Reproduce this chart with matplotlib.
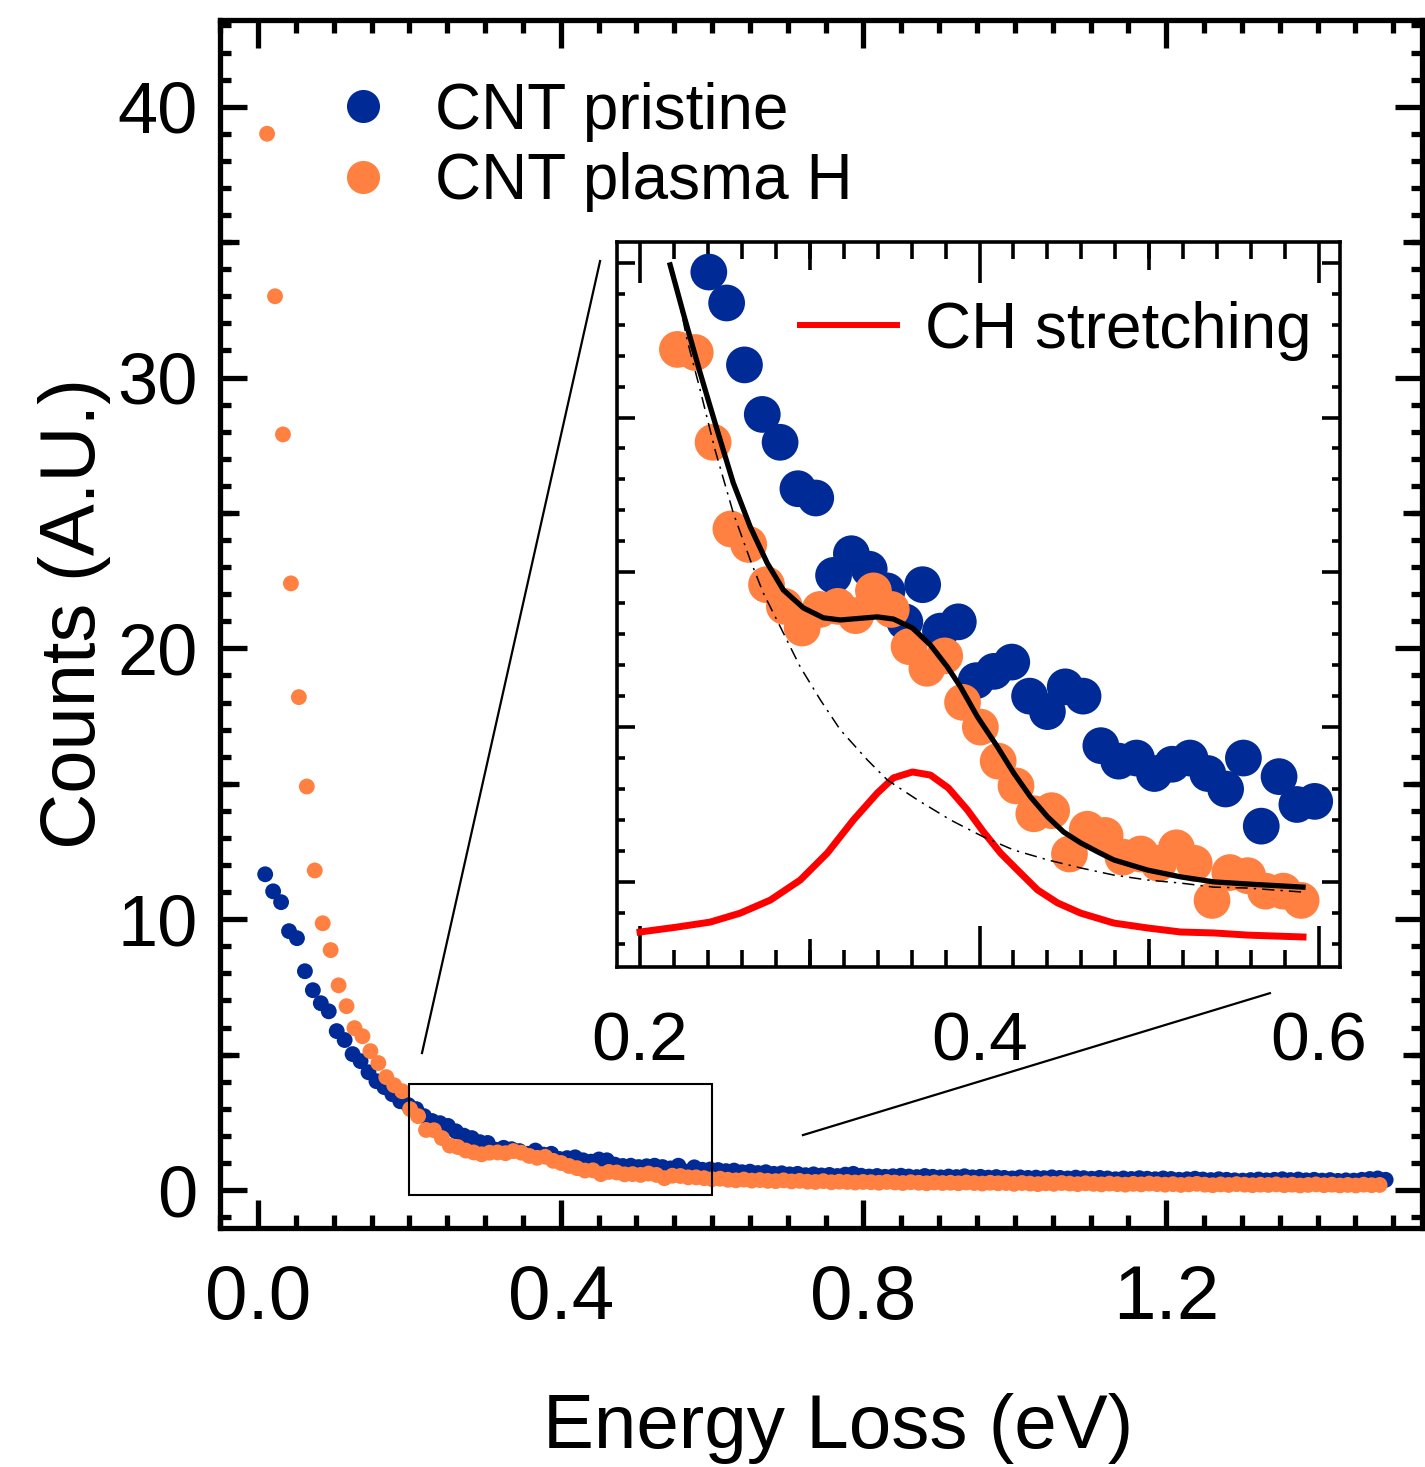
import matplotlib

matplotlib.use("Agg")
import matplotlib.pyplot as plt
import numpy as np
from matplotlib.lines import Line2D
from matplotlib.patches import Rectangle
from matplotlib.ticker import FixedLocator, MultipleLocator

plt.rcParams["font.family"] = ["Liberation Sans", "DejaVu Sans"]

BLUE = "#002A96"
ORANGE = "#FF8040"
RED = "#FF0000"

# energy grid (eV) of the two spectra
STEP = 0.0105
PRISTINE_START = 0.0095
PLASMA_START = 0.012

pristine_counts = [
    11.66, 11.03, 10.63, 9.56, 9.30, 8.08, 7.38, 6.90, 6.60, 5.87,
    5.54, 5.02, 4.76, 4.35, 4.02, 3.80, 3.54, 3.28, 3.14, 2.99,
    2.73, 2.55,
    2.47, 2.37, 2.17, 2.01, 1.92, 1.77, 1.74, 1.49, 1.56, 1.51,
    1.44, 1.34, 1.46, 1.31, 1.34, 1.15, 1.18, 1.21, 1.10, 1.05,
    1.13, 1.10, 0.94, 0.89, 0.90, 0.85, 0.88, 0.90, 0.85, 0.80,
    0.90, 0.68, 0.84, 0.75, 0.76,
    0.74, 0.70, 0.72, 0.66, 0.68, 0.63, 0.66, 0.60, 0.62, 0.58,
    0.60, 0.55, 0.58, 0.54, 0.56, 0.52, 0.57, 0.60, 0.53, 0.50,
    0.52, 0.49, 0.51, 0.53, 0.50, 0.48, 0.52, 0.49, 0.47, 0.50,
    0.48, 0.51, 0.47, 0.49, 0.46, 0.48, 0.45, 0.43, 0.47, 0.45,
    0.46, 0.44, 0.47, 0.45, 0.43, 0.46, 0.44, 0.42, 0.45, 0.43,
    0.40, 0.43, 0.41, 0.44, 0.42, 0.40, 0.43, 0.41, 0.38, 0.40,
    0.42, 0.39, 0.37, 0.40, 0.38, 0.36, 0.35, 0.37, 0.39, 0.36,
    0.38, 0.40, 0.37, 0.39, 0.36, 0.38, 0.35, 0.37, 0.34, 0.36,
    0.35, 0.38, 0.41, 0.43, 0.38,
]
plasma_counts = [
    39.0, 33.0, 27.9, 22.4, 18.2, 14.9, 11.8, 9.85, 8.86, 7.56,
    6.79, 5.98, 5.68, 5.13, 4.69, 4.17, 3.87, 3.65, 2.99, 2.73,
    2.22, 2.21, 1.92, 1.64, 1.59, 1.46, 1.39, 1.32, 1.38, 1.39,
    1.36, 1.44, 1.38, 1.26, 1.19, 1.23, 1.08, 1.00, 0.89, 0.81,
    0.72, 0.73, 0.59, 0.67, 0.65, 0.58, 0.59, 0.56, 0.61, 0.56,
    0.44, 0.53, 0.52, 0.47, 0.47, 0.44,
    0.40, 0.42, 0.38, 0.36, 0.39, 0.35, 0.37, 0.34, 0.33, 0.36,
    0.32, 0.34, 0.31, 0.30, 0.33, 0.29, 0.31, 0.30, 0.28, 0.30,
    0.29, 0.27, 0.30, 0.28, 0.26, 0.29, 0.27, 0.25, 0.28, 0.26,
    0.27, 0.25, 0.28, 0.26, 0.24, 0.27, 0.25, 0.26, 0.23, 0.26,
    0.24, 0.22, 0.25, 0.23, 0.26, 0.24, 0.22, 0.25, 0.23, 0.21,
    0.24, 0.22, 0.20, 0.23, 0.21, 0.24, 0.22, 0.20, 0.22, 0.19,
    0.21, 0.23, 0.20, 0.18, 0.21, 0.19, 0.22, 0.20, 0.18, 0.20,
    0.19, 0.21, 0.18, 0.20, 0.17, 0.19, 0.21, 0.18, 0.20, 0.17,
    0.19, 0.17, 0.20, 0.18, 0.19,
]
# points of each spectrum that belong to the fitted window
PRISTINE_FIT = slice(22, 57)
PLASMA_FIT = slice(20, 56)

fit_total_x = [
    0.2177, 0.2254, 0.2354, 0.2454, 0.2549, 0.2649, 0.2749, 0.2844,
    0.2962, 0.3080, 0.3180, 0.3398, 0.3493, 0.3605, 0.3711, 0.3811,
    0.3888, 0.3988, 0.4106, 0.4201, 0.4301, 0.4401, 0.4496, 0.4596,
    0.4696, 0.4791, 0.4991, 0.5186, 0.5381, 0.5581, 0.5906,
]
fit_total_y = [
    2.493, 2.338, 2.144, 1.960, 1.789, 1.647, 1.530, 1.443,
    1.385, 1.353, 1.346, 1.356, 1.349, 1.320, 1.265, 1.194,
    1.130, 1.033, 0.936, 0.852, 0.774, 0.710, 0.661, 0.626,
    0.597, 0.571, 0.538, 0.516, 0.500, 0.493, 0.483,
]
background_x = [
    0.2189, 0.2277, 0.2354, 0.2442, 0.2549, 0.2649, 0.2726, 0.2826,
    0.2944, 0.3062, 0.3180, 0.3339, 0.3457, 0.3634, 0.3829, 0.4024,
    0.4201, 0.4401, 0.4596, 0.4791, 0.4991, 0.5186, 0.5381, 0.5581,
    0.5906,
]
background_y = [
    2.487, 2.251, 2.089, 1.895, 1.692, 1.540, 1.433, 1.324,
    1.194, 1.088, 0.991, 0.894, 0.829, 0.765, 0.700, 0.645,
    0.603, 0.571, 0.545, 0.522, 0.506, 0.496, 0.483, 0.480,
    0.467,
]
ch_stretch_x = [
    0.2000, 0.2218, 0.2413, 0.2590, 0.2767, 0.2944, 0.3103, 0.3257,
    0.3398, 0.3493, 0.3605, 0.3711, 0.3817, 0.3929, 0.4024, 0.4124,
    0.4224, 0.4342, 0.4460, 0.4596, 0.4791, 0.4991, 0.5186, 0.5381,
    0.5581, 0.5906,
]
ch_stretch_y = [
    0.338, 0.354, 0.370, 0.399, 0.441, 0.506, 0.593, 0.700,
    0.787, 0.836, 0.855, 0.845, 0.803, 0.732, 0.661, 0.593,
    0.538, 0.474, 0.432, 0.399, 0.367, 0.351, 0.338, 0.335,
    0.328, 0.322,
]

pristine_energy = PRISTINE_START + STEP * np.arange(len(pristine_counts))
plasma_energy = PLASMA_START + STEP * np.arange(len(plasma_counts))

W, H = 1425, 1467


def px_rect(left, top, right, bottom):
    return [left / W, 1 - bottom / H, (right - left) / W, (bottom - top) / H]


def add_tick_layer(fig, host, xticks, yticks, xlen, ylen, width):
    layer = fig.add_axes(host.get_position(), frameon=False)
    layer.patch.set_visible(False)
    layer.set_xlim(host.get_xlim())
    layer.set_ylim(host.get_ylim())
    layer.set_xticks(xticks)
    layer.set_yticks(yticks)
    layer.tick_params(
        which="major", direction="in", top=True, right=True,
        labelbottom=False, labelleft=False, width=width,
    )
    layer.tick_params(axis="x", length=xlen)
    layer.tick_params(axis="y", length=ylen)
    return layer


fig = plt.figure(figsize=(W / 100, H / 100), dpi=100)

# ---- main panel
ax = fig.add_axes(px_rect(220, 20, 1422, 1228))
ax.scatter(pristine_energy, pristine_counts, s=130, color=BLUE,
           edgecolors="none", zorder=2)
ax.scatter(plasma_energy, plasma_counts, s=130, color=ORANGE,
           edgecolors="none", zorder=3)
ax.set_xlim(-0.0502, 1.538)
ax.set_ylim(-1.4, 43.2)

ax.add_patch(Rectangle((0.2, -0.18), 0.4, 4.09, fill=False,
                       edgecolor="black", linewidth=1.5, zorder=4))
# connectors from the zoom box towards the inset
ax.plot([0.2167, 0.452], [5.06, 34.3], color="black", lw=1.6)
ax.plot([0.720, 1.337], [2.03, 7.27], color="black", lw=1.6)

for side in ax.spines.values():
    side.set_linewidth(3.8)
ax.xaxis.set_major_locator(FixedLocator([0.0, 0.4, 0.8, 1.2]))
ax.xaxis.set_minor_locator(MultipleLocator(0.05))
ax.yaxis.set_major_locator(MultipleLocator(10))
ax.yaxis.set_minor_locator(MultipleLocator(1))
ax.xaxis.set_major_formatter(lambda v, pos: f"{v:.1f}")
ax.tick_params(which="both", direction="in", top=True, right=True,
               width=3.8)
ax.tick_params(axis="x", which="major", length=20, labelsize=55, pad=26)
ax.tick_params(axis="x", which="minor", length=9.4)
ax.tick_params(axis="y", which="major", length=19.4, labelsize=52, pad=16)
ax.tick_params(axis="y", which="minor", length=7.9)

ax.set_xlabel("Energy Loss (eV)", fontsize=55)
ax.xaxis.set_label_coords(0.514, -0.1366)
ax.set_ylabel("Counts (A.U.)", fontsize=56)
ax.yaxis.set_label_coords(-0.091, 0.509)

handles = [
    Line2D([], [], ls="none", marker="o", ms=23.8, mfc=BLUE, mec="none"),
    Line2D([], [], ls="none", marker="o", ms=23.8, mfc=ORANGE, mec="none"),
]
ax.legend(handles, ["CNT pristine", "CNT plasma H"], loc="upper left",
          bbox_to_anchor=(0.0923, 0.949), frameon=False, fontsize=46,
          handlelength=1.0, handletextpad=0.63, labelspacing=0.17,
          borderpad=0, borderaxespad=0)

add_tick_layer(fig, ax, [], [5, 15, 25, 35], 0, 13.7, 3.8)

# ---- inset
ins = fig.add_axes(px_rect(617, 242, 1340, 967))
ins.scatter(pristine_energy[PRISTINE_FIT], pristine_counts[PRISTINE_FIT],
            s=700, color=BLUE, edgecolors="none", zorder=2)
ins.scatter(plasma_energy[PLASMA_FIT], plasma_counts[PLASMA_FIT],
            s=700, color=ORANGE, edgecolors="none", zorder=3)
ins.plot(ch_stretch_x, ch_stretch_y, color=RED, lw=5, zorder=4,
         label="CH stretching")
ins.plot(background_x, background_y, color="black", lw=1.1,
         ls=(0, (8, 4, 1.5, 4)), zorder=5)
ins.plot(fit_total_x, fit_total_y, color="black", lw=3.8, zorder=6)
ins.set_xlim(0.1864, 0.6124)
ins.set_ylim(0.225, 2.567)

for side in ins.spines.values():
    side.set_linewidth(2.6)
ins.xaxis.set_major_locator(FixedLocator([0.2, 0.4, 0.6]))
ins.xaxis.set_minor_locator(MultipleLocator(0.02))
ins.yaxis.set_major_locator(MultipleLocator(0.5))
ins.yaxis.set_minor_locator(MultipleLocator(0.1))
ins.tick_params(which="both", direction="in", top=True, right=True,
                width=2.6, labelleft=False)
ins.tick_params(axis="x", which="major", length=29.5, labelsize=50, pad=31)
ins.tick_params(axis="x", which="minor", length=12.2)
ins.tick_params(axis="y", which="major", length=13)
ins.tick_params(axis="y", which="minor", length=5.8)
ins.legend(handles=[Line2D([], [], color=RED, lw=4.3)],
           labels=["CH stretching"], loc="upper left",
           bbox_to_anchor=(0.253, 0.919), frameon=False, fontsize=46,
           handlelength=1.52, handletextpad=0.43, borderpad=0,
           borderaxespad=0)

add_tick_layer(fig, ins, [0.3, 0.5], [], 20.5, 0, 2.6)

fig.savefig("out.png", dpi=100)
